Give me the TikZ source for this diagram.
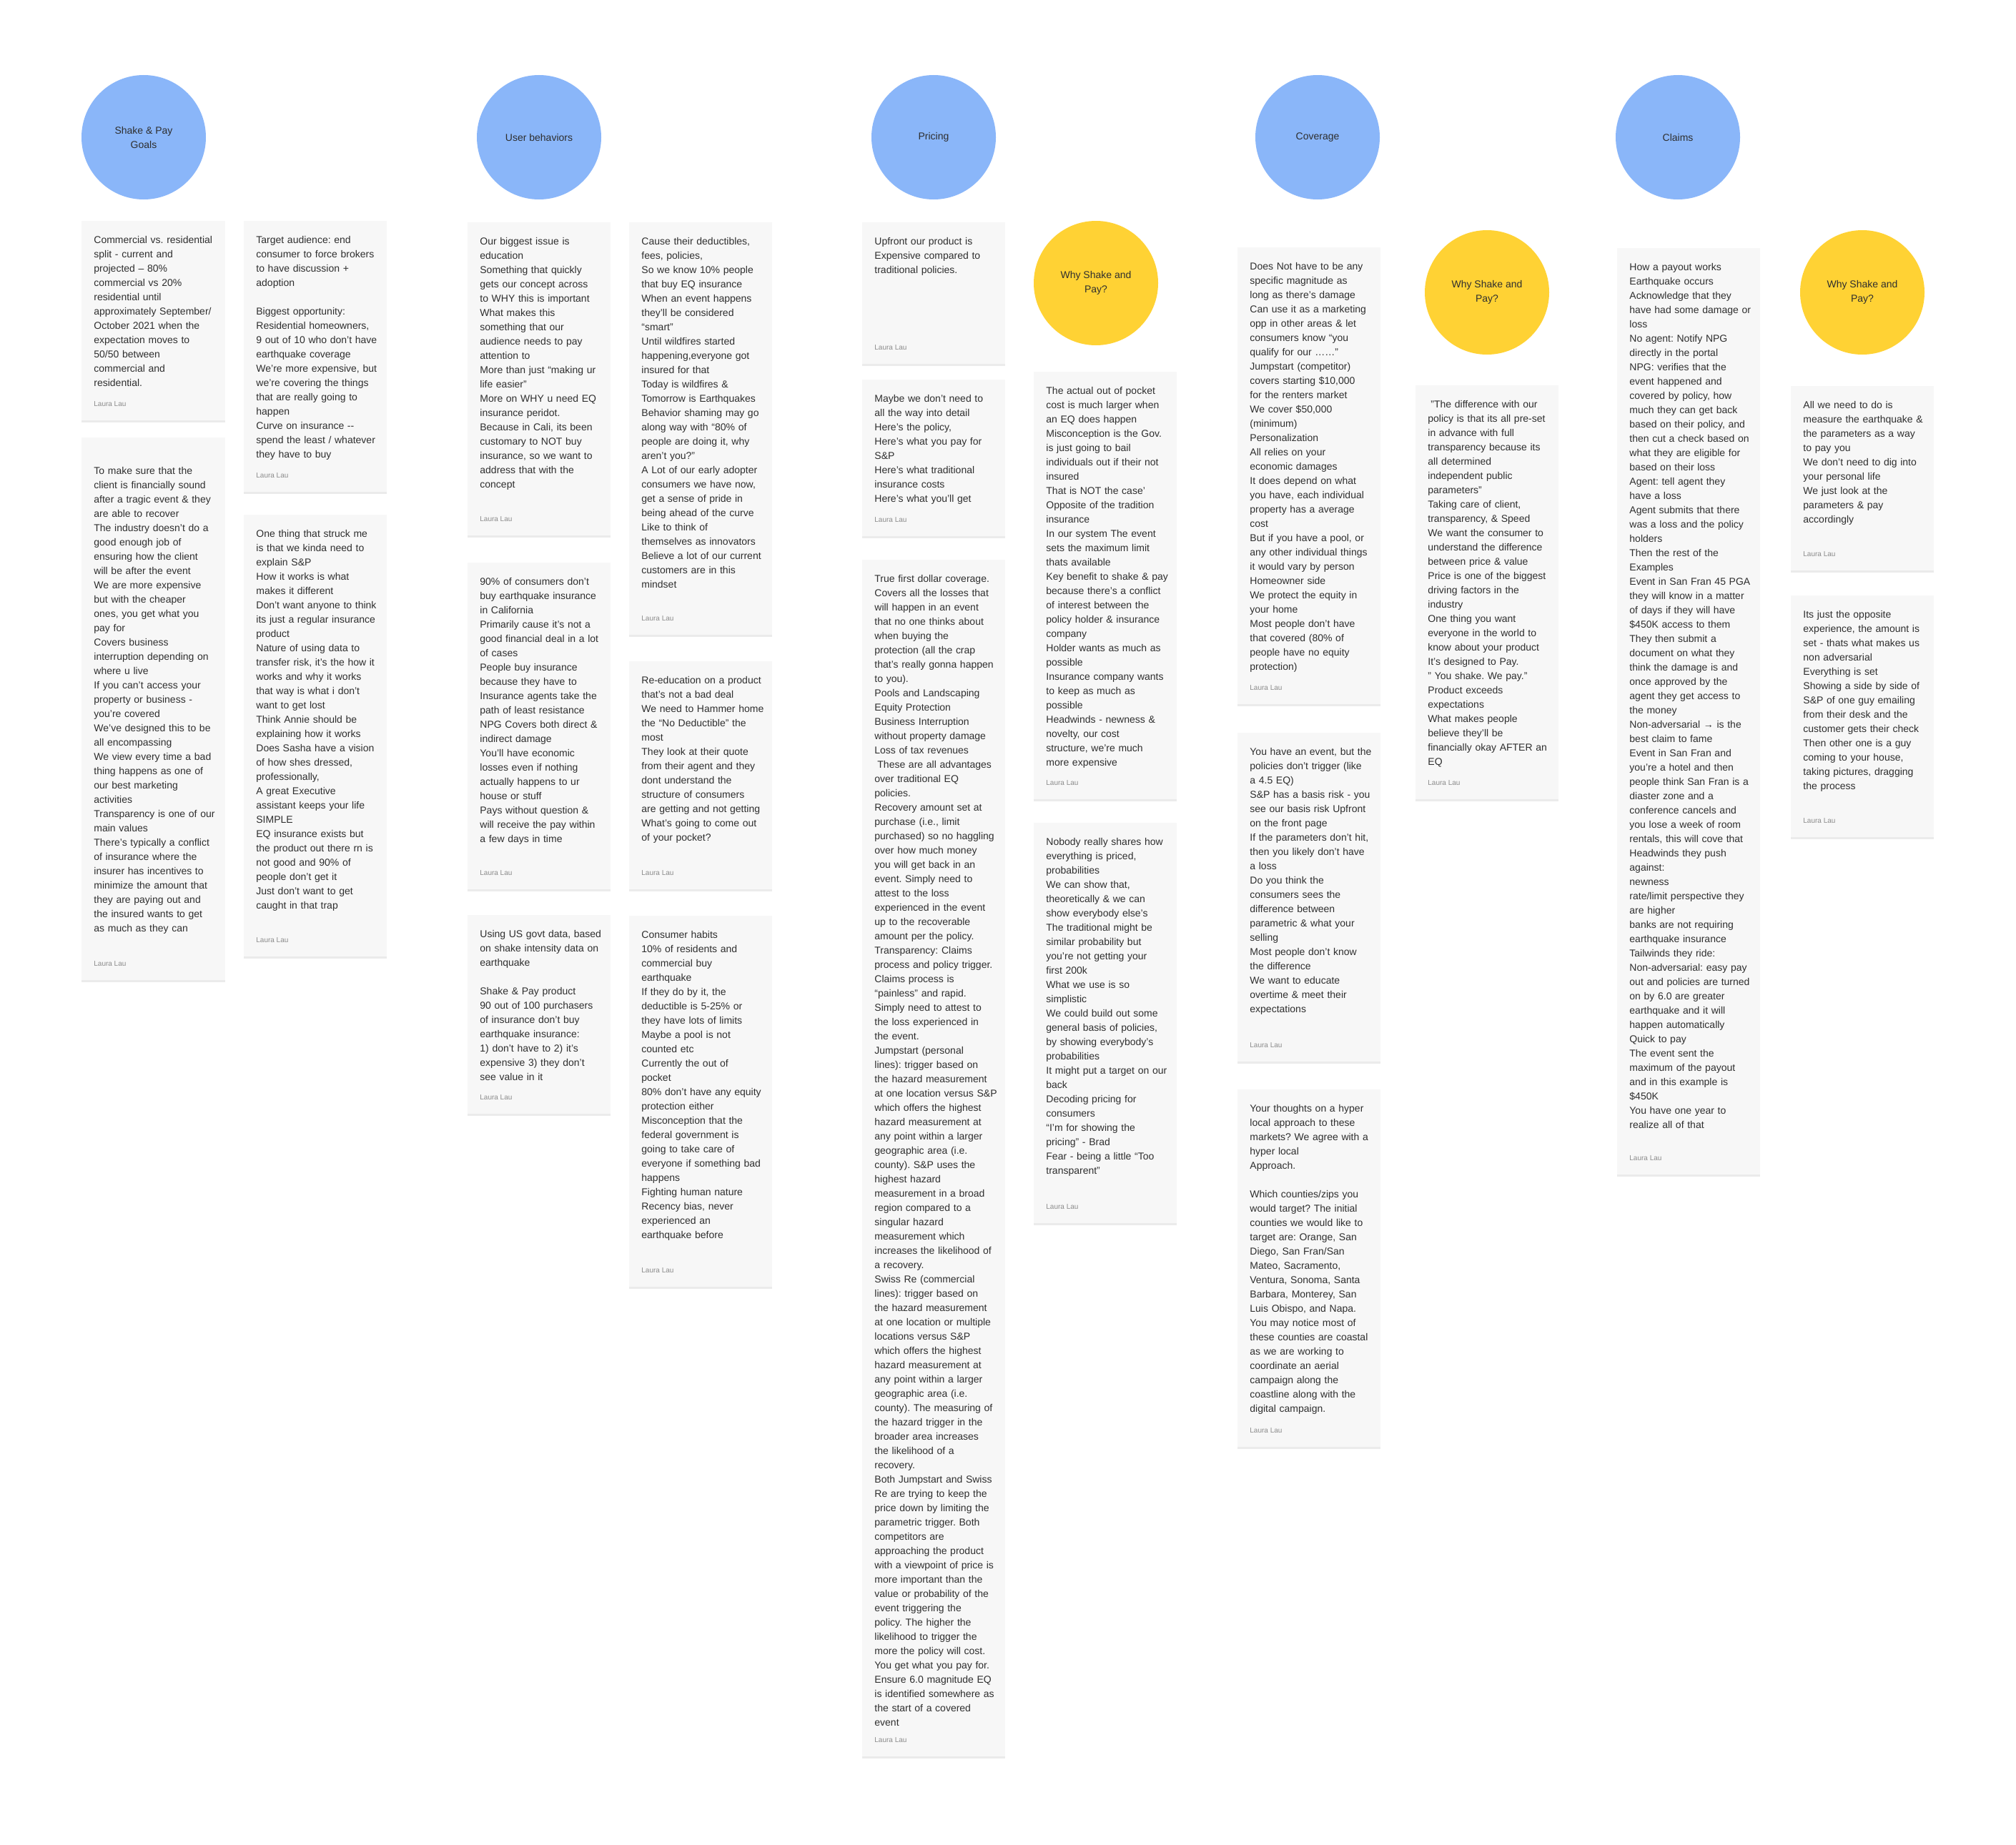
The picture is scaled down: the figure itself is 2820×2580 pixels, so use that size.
\documentclass[tikz,border=0pt]{standalone}
\usepackage{fontspec}
\setmainfont{Liberation Sans}
\usetikzlibrary{shadows}
\frenchspacing
\definecolor{notefill}{HTML}{F7F7F7}
\definecolor{inkc}{HTML}{2E2E2E}
\definecolor{authc}{HTML}{8C8C8C}
\definecolor{bluec}{HTML}{8AB6F9}
\definecolor{yellowc}{HTML}{FFD234}
\tikzset{
  notebg/.style={fill=notefill, drop shadow={shadow xshift=0pt, shadow yshift=-1.5pt, opacity=0.08, fill=black}},
  notetext/.style={inner sep=0pt, text width=100pt, align=left, font=\fontsize{7pt}{10pt}\selectfont\frenchspacing, text=inkc},
  author/.style={inner sep=0pt, font=\fontsize{5pt}{6pt}\selectfont, text=authc},
  topic/.style={circle, fill=bluec, minimum size=87pt, inner sep=0pt, align=center, font=\fontsize{7pt}{10pt}\selectfont, text=inkc},
  why/.style={topic, fill=yellowc},
}
\newcommand\stickynote[6]{%
  \path[notebg] (#2,#3) rectangle (#4,#5);
  \node[notetext, anchor=north west] (#1) at ({#2+17},{#3+17}) {\strut #6};
  \node[author, anchor=base west] (#1-a) at ({#2+17},{#5-19.5}) {Laura Lau};
}
\begin{document}
\begin{tikzpicture}[x=0.5pt,y=-0.5pt]
\fill[white] (0,0) rectangle (2820,2580);
\useasboundingbox (0,0) rectangle (2820,2580);

% topic circles
\node[topic] (goals) at (201,192) {Shake \& Pay\\Goals};
\node[topic] (users) at (754,192) {User behaviors};
\node[topic] (pricing) at (1306,192) {Pricing};
\node[topic] (coverage) at (1843,192) {Coverage};
\node[topic] (claims) at (2347,192) {Claims};
\node[why] (why1) at (1533,396) {Why Shake and\\Pay?};
\node[why] (why2) at (2080,409) {Why Shake and\\Pay?};
\node[why] (why3) at (2605,409) {Why Shake and\\Pay?};

% Shake & Pay Goals
\stickynote{a1}{114}{309}{315}{588}{Commercial vs. residential\\split - current and\\projected – 80\%\\commercial vs 20\%\\residential until\\approximately September/\\October 2021 when the\\expectation moves to\\50/50 between\\commercial and\\residential.}
\stickynote{a2}{114}{612}{315}{1371}{\mbox{}\\To make sure that the\\client is financially sound\\after a tragic event \& they\\are able to recover\\The industry doesn't do a\\good enough job of\\ensuring how the client\\will be after the event\\We are more expensive\\but with the cheaper\\ones, you get what you\\pay for\\Covers business\\interruption depending on\\where u live\\If you can't access your\\property or business -\\you're covered\\We've designed this to be\\all encompassing\\We view every time a bad\\thing happens as one of\\our best marketing\\activities\\Transparency is one of our\\main values\\There's typically a conflict\\of insurance where the\\insurer has incentives to\\minimize the amount that\\they are paying out and\\the insured wants to get\\as much as they can}
\stickynote{b1}{341}{309}{541}{688}{Target audience: end\\consumer to force brokers\\to have discussion +\\adoption\\[10pt]Biggest opportunity:\\Residential homeowners,\\9 out of 10 who don't have\\earthquake coverage\\We're more expensive, but\\we're covering the things\\that are really going to\\happen\\Curve on insurance {-}{-}\\spend the least / whatever\\they have to buy}
\stickynote{b2}{341}{720}{541}{1338}{One thing that struck me\\is that we kinda need to\\explain S\&P\\How it works is what\\makes it different\\Don't want anyone to think\\its just a regular insurance\\product\\Nature of using data to\\transfer risk, it's the how it\\works and why it works\\that way is what i don't\\want to get lost\\Think Annie should be\\explaining how it works\\Does Sasha have a vision\\of how shes dressed,\\professionally,\\A great Executive\\assistant keeps your life\\SIMPLE\\EQ insurance exists but\\the product out there rn is\\not good and 90\% of\\people don't get it\\Just don't want to get\\caught in that trap}

% User behaviors
\stickynote{c1}{654}{311}{854}{749}{Our biggest issue is\\education\\Something that quickly\\gets our concept across\\to WHY this is important\\What makes this\\something that our\\audience needs to pay\\attention to\\More than just “making ur\\life easier”\\More on WHY u need EQ\\insurance peridot.\\Because in Cali, its been\\customary to NOT buy\\insurance, so we want to\\address that with the\\concept}
\stickynote{c2}{654}{787}{854}{1244}{90\% of consumers don't\\buy earthquake insurance\\in California\\Primarily cause it's not a\\good financial deal in a lot\\of cases\\People buy insurance\\because they have to\\Insurance agents take the\\path of least resistance\\NPG Covers both direct \&\\indirect damage\\You’ll have economic\\losses even if nothing\\actually happens to ur\\house or stuff\\Pays without question \&\\will receive the pay within\\a few days in time}
\stickynote{c3}{654}{1280}{854}{1558}{Using US govt data, based\\on shake intensity data on\\earthquake\\[10pt]Shake \& Pay product\\90 out of 100 purchasers\\of insurance don’t buy\\earthquake insurance:\\1) don’t have to 2) it’s\\expensive 3) they don’t\\see value in it}
\stickynote{d1}{880}{311}{1080}{888}{Cause their deductibles,\\fees, policies,\\So we know 10\% people\\that buy EQ insurance\\When an event happens\\they'll be considered\\“smart”\\Until wildfires started\\happening,everyone got\\insured for that\\Today is wildfires \&\\Tomorrow is Earthquakes\\Behavior shaming may go\\along way with “80\% of\\people are doing it, why\\aren't you?”\\A Lot of our early adopter\\consumers we have now,\\get a sense of pride in\\being ahead of the curve\\Like to think of\\themselves as innovators\\Believe a lot of our current\\customers are in this\\mindset}
\stickynote{d2}{880}{925}{1080}{1244}{Re-education on a product\\that's not a bad deal\\We need to Hammer home\\the “No Deductible” the\\most\\They look at their quote\\from their agent and they\\dont understand the\\structure of consumers\\are getting and not getting\\What's going to come out\\of your pocket?}
\stickynote{d3}{880}{1281}{1080}{1800}{Consumer habits\\10\% of residents and\\commercial buy\\earthquake\\If they do by it, the\\deductible is 5-25\% or\\they have lots of limits\\Maybe a pool is not\\counted etc\\Currently the out of\\pocket\\80\% don’t have any equity\\protection either\\Misconception that the\\federal government is\\going to take care of\\everyone if something bad\\happens\\Fighting human nature\\Recency bias, never\\experienced an\\earthquake before}

% Pricing
\stickynote{e1}{1206}{311}{1406}{509}{Upfront our product is\\Expensive compared to\\traditional policies.}
\stickynote{e2}{1206}{531}{1406}{750}{Maybe we don't need to\\all the way into detail\\Here's the policy,\\Here's what you pay for\\S\&P\\Here's what traditional\\insurance costs\\Here’s what you’ll get}
\stickynote{e3}{1206}{783}{1406}{2457}{True first dollar coverage.\\Covers all the losses that\\will happen in an event\\that no one thinks about\\when buying the\\protection (all the crap\\that’s really gonna happen\\to you).\\Pools and Landscaping\\Equity Protection\\Business Interruption\\without property damage\\Loss of tax revenues\\\hspace*{2pt}These are all advantages\\over traditional EQ\\policies.\\Recovery amount set at\\purchase (i.e., limit\\purchased) so no haggling\\over how much money\\you will get back in an\\event. Simply need to\\attest to the loss\\experienced in the event\\up to the recoverable\\amount per the policy.\\Transparency: Claims\\process and policy trigger.\\Claims process is\\“painless” and rapid.\\Simply need to attest to\\the loss experienced in\\the event.\\Jumpstart (personal\\lines): trigger based on\\the hazard measurement\\at one location versus S\&P\\which offers the highest\\hazard measurement at\\any point within a larger\\geographic area (i.e.\\county). S\&P uses the\\highest hazard\\measurement in a broad\\region compared to a\\singular hazard\\measurement which\\increases the likelihood of\\a recovery.\\Swiss Re (commercial\\lines): trigger based on\\the hazard measurement\\at one location or multiple\\locations versus S\&P\\which offers the highest\\hazard measurement at\\any point within a larger\\geographic area (i.e.\\county). The measuring of\\the hazard trigger in the\\broader area increases\\the likelihood of a\\recovery.\\Both Jumpstart and Swiss\\Re are trying to keep the\\price down by limiting the\\parametric trigger. Both\\competitors are\\approaching the product\\with a viewpoint of price is\\more important than the\\value or probability of the\\event triggering the\\policy. The higher the\\likelihood to trigger the\\more the policy will cost.\\You get what you pay for.\\Ensure 6.0 magnitude EQ\\is identified somewhere as\\the start of a covered\\event}
\stickynote{f1}{1446}{520}{1646}{1118}{The actual out of pocket\\cost is much larger when\\an EQ does happen\\Misconception is the Gov.\\is just going to bail\\individuals out if their not\\insured\\That is NOT the case’\\Opposite of the tradition\\insurance\\In our system The event\\sets the maximum limit\\thats available\\Key benefit to shake \& pay\\because there's a conflict\\of interest between the\\policy holder \& insurance\\company\\Holder wants as much as\\possible\\Insurance company wants\\to keep as much as\\possible\\Headwinds - newness \&\\novelty, our cost\\structure, we’re much\\more expensive}
\stickynote{f2}{1446}{1151}{1646}{1711}{Nobody really shares how\\everything is priced,\\probabilities\\We can show that,\\theoretically \& we can\\show everybody else's\\The traditional might be\\similar probability but\\you're not getting your\\first 200k\\What we use is so\\simplistic\\We could build out some\\general basis of policies,\\by showing everybody's\\probabilities\\It might put a target on our\\back\\Decoding pricing for\\consumers\\“I'm for showing the\\pricing” - Brad\\Fear - being a little “Too\\transparent”}

% Coverage
\stickynote{g1}{1731}{346}{1931}{985}{Does Not have to be any\\specific magnitude as\\long as there's damage\\Can use it as a marketing\\opp in other areas \& let\\consumers know “you\\qualify for our ……”\\Jumpstart (competitor)\\covers starting \$10,000\\for the renters market\\We cover \$50,000\\(minimum)\\Personalization\\All relies on your\\economic damages\\It does depend on what\\you have, each individual\\property has a average\\cost\\But if you have a pool, or\\any other individual things\\it would vary by person\\Homeowner side\\We protect the equity in\\your home\\Most people don't have\\that covered (80\% of\\people have no equity\\protection)}
\stickynote{g2}{1731}{1025}{1931}{1485}{You have an event, but the\\policies don't trigger (like\\a 4.5 EQ)\\S\&P has a basis risk - you\\see our basis risk Upfront\\on the front page\\If the parameters don't hit,\\then you likely don't have\\a loss\\Do you think the\\consumers sees the\\difference between\\parametric \& what your\\selling\\Most people don't know\\the difference\\We want to educate\\overtime \& meet their\\expectations}
\stickynote{g3}{1731}{1524}{1931}{2024}{Your thoughts on a hyper\\local approach to these\\markets? We agree with a\\hyper local\\Approach.\\[10pt]Which counties/zips you\\would target? The initial\\counties we would like to\\target are: Orange, San\\Diego, San Fran/San\\Mateo, Sacramento,\\Ventura, Sonoma, Santa\\Barbara, Monterey, San\\Luis Obispo, and Napa.\\You may notice most of\\these counties are coastal\\as we are working to\\coordinate an aerial\\campaign along the\\coastline along with the\\digital campaign.}
\stickynote{h1}{1980}{539}{2180}{1118}{\hspace*{2pt}"The difference with our\\policy is that its all pre-set\\in advance with full\\transparency because its\\all determined\\independent public\\parameters"\\Taking care of client,\\transparency, \& Speed\\We want the consumer to\\understand the difference\\between price \& value\\Price is one of the biggest\\driving factors in the\\industry\\One thing you want\\everyone in the world to\\know about your product\\It’s designed to Pay.\\" You shake. We pay."\\Product exceeds\\expectations\\What makes people\\believe they’ll be\\financially okay AFTER an\\EQ}

% Claims
\stickynote{i1}{2262}{347}{2462}{1643}{How a payout works\\Earthquake occurs\\Acknowledge that they\\have had some damage or\\loss\\No agent: Notify NPG\\directly in the portal\\NPG: verifies that the\\event happened and\\covered by policy, how\\much they can get back\\based on their policy, and\\then cut a check based on\\what they are eligible for\\based on their loss\\Agent: tell agent they\\have a loss\\Agent submits that there\\was a loss and the policy\\holders\\Then the rest of the\\Examples\\Event in San Fran 45 PGA\\they will know in a matter\\of days if they will have\\\$450K access to them\\They then submit a\\document on what they\\think the damage is and\\once approved by the\\agent they get access to\\the money\\Non-adversarial → is the\\best claim to fame\\Event in San Fran and\\you’re a hotel and then\\people think San Fran is a\\diaster zone and a\\conference cancels and\\you lose a week of room\\rentals, this will cove that\\Headwinds they push\\against:\\newness\\rate/limit perspective they\\are higher\\banks are not requiring\\earthquake insurance\\Tailwinds they ride:\\Non-adversarial: easy pay\\out and policies are turned\\on by 6.0 are greater\\earthquake and it will\\happen automatically\\Quick to pay\\The event sent the\\maximum of the payout\\and in this example is\\\$450K\\You have one year to\\realize all of that}
\stickynote{j1}{2505}{540}{2705}{798}{All we need to do is\\measure the earthquake \&\\the parameters as a way\\to pay you\\We don't need to dig into\\your personal life\\We just look at the\\parameters \& pay\\accordingly}
\stickynote{j2}{2505}{833}{2705}{1171}{Its just the opposite\\experience, the amount is\\set - thats what makes us\\non adversarial\\Everything is set\\Showing a side by side of\\S\&P of one guy emailing\\from their desk and the\\customer gets their check\\Then other one is a guy\\coming to your house,\\taking pictures, dragging\\the process}
\end{tikzpicture}
\end{document}
